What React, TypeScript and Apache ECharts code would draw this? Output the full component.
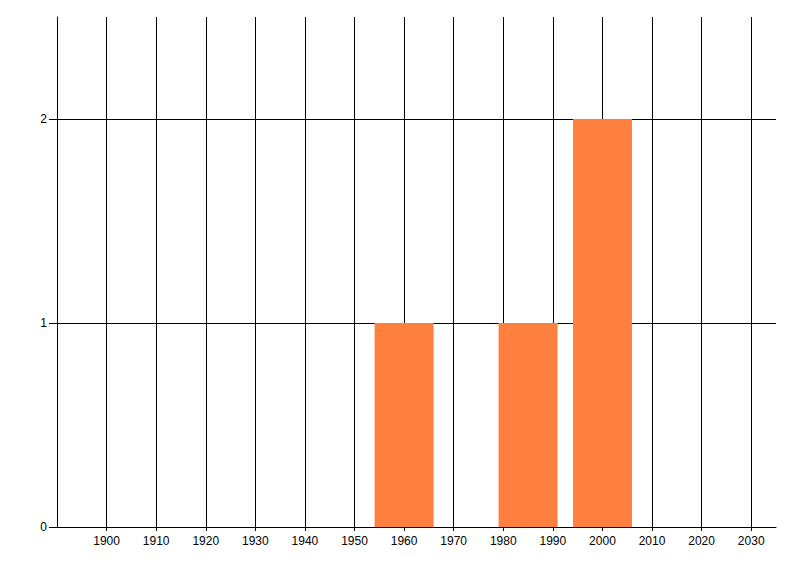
import React, { useEffect, useRef } from "react";
import * as echarts from "echarts";

const years = [1960, 1985, 2000];
const counts = [1, 1, 2];
const xTicks = [1900, 1910, 1920, 1930, 1940, 1950, 1960, 1970, 1980, 1990, 2000, 2010, 2020, 2030];
const yTicks = [0, 1, 2];

const FONT = "'Liberation Sans Narrow', 'Liberation Sans', Arial, sans-serif";

export default function App() {
  const ref = useRef<HTMLDivElement>(null);
  useEffect(() => {
    if (!ref.current) return;
    const chart = echarts.init(ref.current, undefined, { renderer: "svg" });
    chart.setOption({
      animation: false,
      backgroundColor: "#ffffff",
      grid: { left: 57, right: 24, top: 17, bottom: 49, containLabel: false },
      xAxis: {
        type: "value",
        min: 1890,
        max: 2035,
        interval: 10,
        axisLine: { show: true, lineStyle: { color: "#000", width: 1 } },
        axisTick: { show: true, length: 4, lineStyle: { color: "#000" }, customValues: xTicks },
        axisLabel: {
          color: "#000",
          fontSize: 12,
          fontFamily: FONT,
          margin: 8,
          customValues: xTicks,
          formatter: (v: number) => String(v),
        },
        splitLine: { show: true, showMinLine: true, showMaxLine: true, lineStyle: { color: "#000", width: 1 } },
      },
      yAxis: {
        type: "value",
        min: 0,
        max: 2.5,
        interval: 1,
        axisLine: { show: true, lineStyle: { color: "#000", width: 1 } },
        axisTick: { show: true, length: 8, lineStyle: { color: "#000" }, customValues: yTicks },
        axisLabel: {
          color: "#000",
          fontSize: 12,
          fontFamily: FONT,
          margin: 10,
          customValues: yTicks,
          formatter: (v: number) => String(v),
        },
        splitLine: { show: true, showMinLine: true, showMaxLine: true, lineStyle: { color: "#000", width: 1 } },
      },
      series: [
        {
          type: "bar",
          data: years.map((y, i) => [y, counts[i]]),
          barWidth: 59,
          itemStyle: { color: "#FF7F3F" },
          z: 5,
        },
      ],
    });
    return () => chart.dispose();
  }, []);
  return <div ref={ref} style={{ width: 800, height: 576, position: "absolute", left: 0, top: 0 }} />;
}
